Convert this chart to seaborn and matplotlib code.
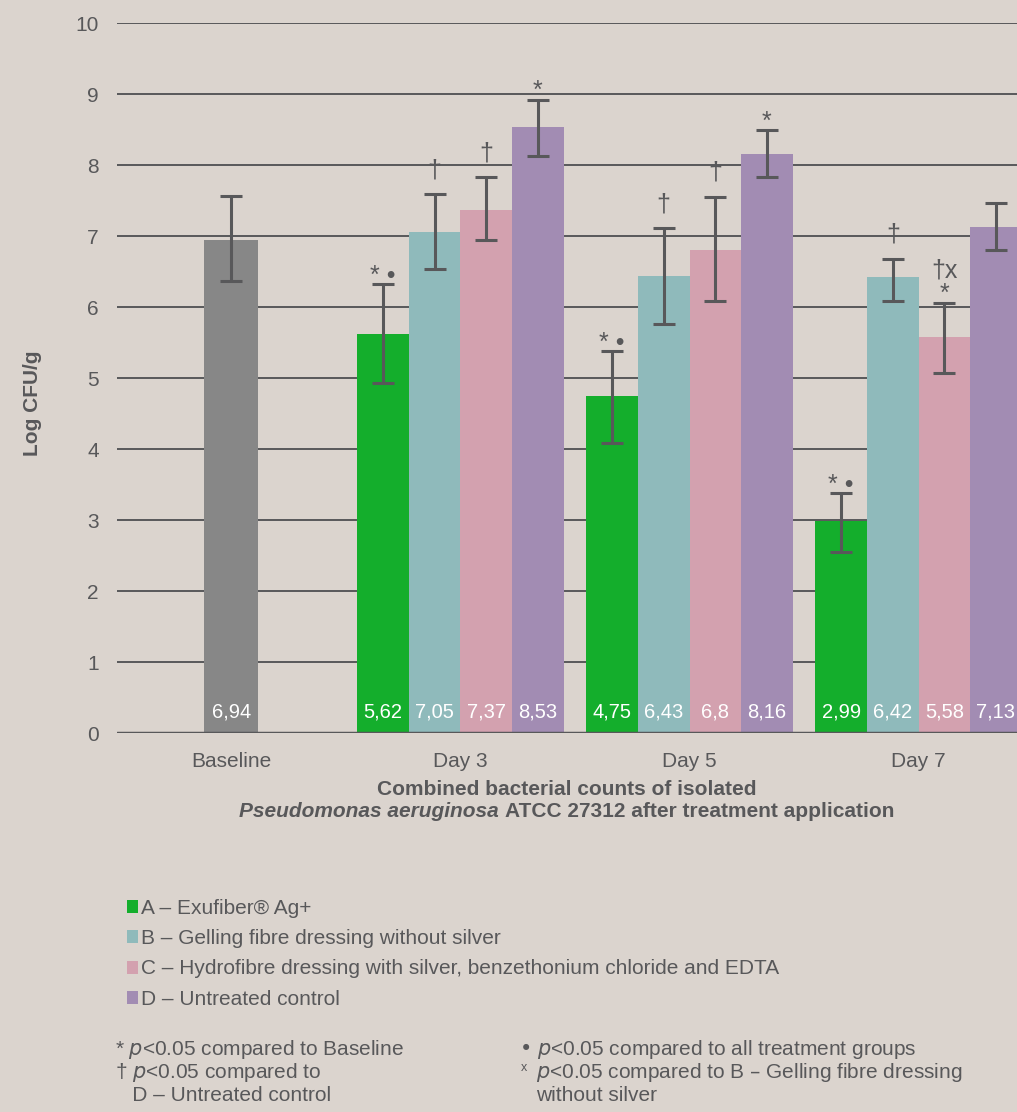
import pandas as pd
import seaborn as sns
import matplotlib.pyplot as plt
from matplotlib.patches import Patch

# data
days = ["Baseline", "Day 3", "Day 5", "Day 7"]
groups = ["A", "B", "C", "D"]
group_labels = [
    "A – Exufiber® Ag+",
    "B – Gelling fibre dressing without silver",
    "C – Hydrofibre dressing with silver, benzethonium chloride and EDTA",
    "D – Untreated control",
]
baseline_value = 6.94
baseline_low = 6.37
baseline_high = 7.56

group_a = [5.62, 4.75, 2.99]
group_b = [7.05, 6.43, 6.42]
group_c = [7.37, 6.80, 5.58]
group_d = [8.53, 8.16, 7.13]

low_a = [4.93, 4.08, 2.55]
low_b = [6.54, 5.76, 6.08]
low_c = [6.94, 6.08, 5.07]
low_d = [8.13, 7.83, 6.80]

high_a = [6.32, 5.38, 3.38]
high_b = [7.59, 7.11, 6.68]
high_c = [7.83, 7.55, 6.06]
high_d = [8.92, 8.49, 7.46]

marks_a = ["* •", "* •", "* •"]
marks_b = ["†", "†", "†"]
marks_c = ["†", "†", "†x\n*"]
marks_d = ["*", "*", ""]

colors = ["#14ae2c", "#8fbabb", "#d3a1af", "#a28cb3"]
grey = "#878787"
bg = "#dbd4ce"
ink = "#58585a"

treat = pd.DataFrame({
    "day": days[1:] * 4,
    "group": [g for g in groups for _ in range(3)],
    "value": group_a + group_b + group_c + group_d,
    "low": low_a + low_b + low_c + low_d,
    "high": high_a + high_b + high_c + high_d,
    "mark": marks_a + marks_b + marks_c + marks_d,
})
base = pd.DataFrame({"day": ["Baseline"], "value": [baseline_value]})

sns.set_style("white")
plt.rcParams["font.family"] = ["Liberation Sans", "DejaVu Sans"]

fig = plt.figure(figsize=(10.17, 11.12), dpi=100, facecolor=bg)
ax = fig.add_axes([0.115, 0.3408, 0.885, 0.6385])
ax.set_facecolor(bg)

ax.set_axisbelow(True)
ax.grid(axis="y", color=ink, lw=1.4)

sns.barplot(data=treat, x="day", y="value", hue="group", order=days,
            hue_order=groups, palette=colors, width=0.9, errorbar=None,
            saturation=1, linewidth=0, ax=ax, legend=False)
sns.barplot(data=base, x="day", y="value", order=days, color=grey,
            width=0.236, errorbar=None, saturation=1, linewidth=0, ax=ax)

# error bars, significance marks and value labels
bars = [p for p in ax.patches if p.get_height() > 0]
for p in bars:
    cx = p.get_x() + p.get_width() / 2
    v = p.get_height()
    match = treat[(treat["value"] - v).abs() < 1e-6]
    if len(match):
        row = match.iloc[0]
        lo, hi, mark = row["low"], row["high"], row["mark"]
    else:
        lo, hi, mark = baseline_low, baseline_high, ""
    ax.errorbar(cx, v, yerr=[[v - lo], [hi - v]], color=ink, lw=2.2,
                capsize=8, capthick=2.2, zorder=5)
    if mark:
        # asterisks sit high in the glyph box, daggers reach below the baseline
        off = 0.02 if mark.split("\n")[-1].startswith("*") else 0.24
        ax.text(cx, hi + off, mark, ha="center", va="baseline", color=ink,
                fontsize=18, linespacing=1.0)
    txt = f"{v:.2f}".rstrip("0").replace(".", ",")
    ax.text(cx, 0.3, txt, ha="center", va="center", color="white", fontsize=14.5)

ax.set_ylim(0, 10)
ax.set_xlim(-0.5, 3.43)
ax.set_yticks(range(0, 11))
ax.axhline(0, color=ink, lw=2.5, zorder=6)
for s in ax.spines.values():
    s.set_visible(False)
ax.tick_params(axis="both", length=0, labelsize=15, colors=ink)
ax.tick_params(axis="y", pad=13)
ax.tick_params(axis="x", pad=14)
ax.set_xlabel("")
ax.set_ylabel("Log CFU/g", fontsize=15, fontweight="bold", color=ink,
              labelpad=24, y=0.465)

# title under the chart, second line mixes italic and upright
fig.text(0.557, 0.2896, "Combined bacterial counts of isolated", ha="center",
         va="center", fontsize=15, fontweight="bold", color=ink)
t1 = fig.text(0, 0.2698, "Pseudomonas aeruginosa", ha="left", va="center",
              fontsize=15, fontweight="bold", style="italic", color=ink)
t2 = fig.text(0, 0.2698, "ATCC 27312 after treatment application", ha="left",
              va="center", fontsize=15, fontweight="bold", color=ink)
fig.canvas.draw()
w1 = t1.get_window_extent().width / fig.bbox.width
w2 = t2.get_window_extent().width / fig.bbox.width
gap = 0.006
x0 = 0.557 - (w1 + gap + w2) / 2
t1.set_x(x0)
t2.set_x(x0 + w1 + gap)

handles = [Patch(facecolor=c, edgecolor="none") for c in colors]
fig.legend(handles, group_labels, loc="upper left", bbox_to_anchor=(0.106, 0.2088),
           frameon=False, fontsize=15, handlelength=0.55, handleheight=0.6,
           handletextpad=0.15, labelspacing=0.55, labelcolor=ink)

# footnotes
foot_left = [r"* $\it{p}$<0.05 compared to Baseline",
             r"† $\it{p}$<0.05 compared to",
             "   D – Untreated control"]
foot_right = [r"• $\it{p}$<0.05 compared to all treatment groups",
              r"$\it{p}$<0.05 compared to B – Gelling fibre dressing",
              "without silver"]
for i, (l, r) in enumerate(zip(foot_left, foot_right)):
    y = 0.0517 - i * 0.0207
    fig.text(0.113, y, l, ha="left", va="baseline", fontsize=15, color=ink)
    fig.text(0.51 if i == 0 else 0.527, y, r, ha="left", va="baseline",
             fontsize=15, color=ink)
# small superscript x in front of the second right footnote
fig.text(0.512, 0.0517 - 0.0207 + 0.006, "x", ha="left", va="baseline",
         fontsize=9, color=ink)

fig.savefig("out.png", dpi=100, facecolor=bg)
